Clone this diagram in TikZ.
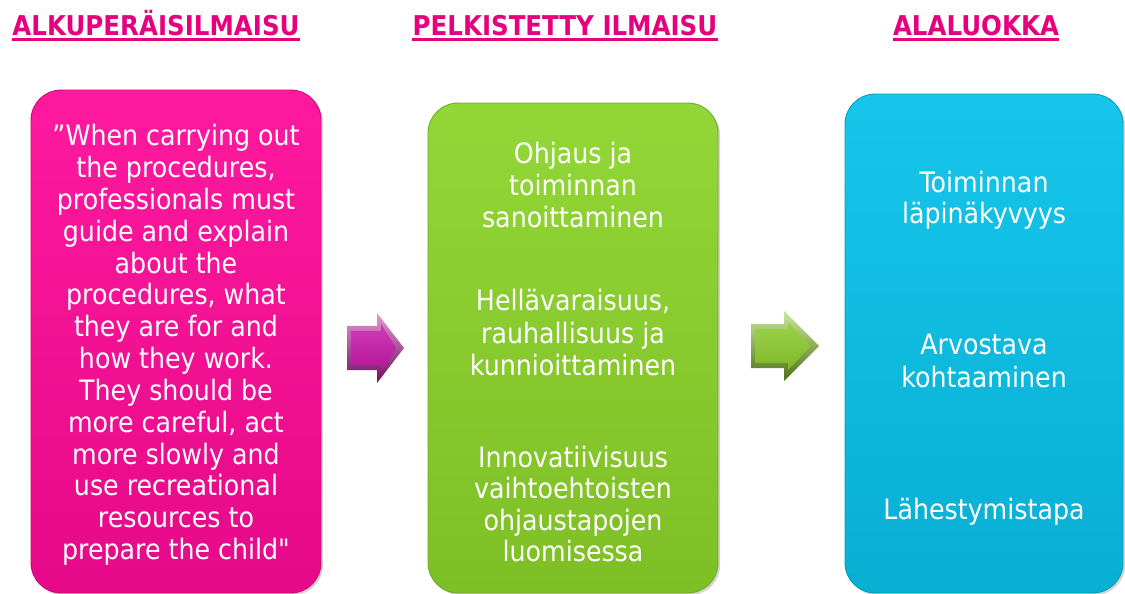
\documentclass[tikz,border=0pt]{standalone}
\usepackage{fontspec}
\setmainfont{DejaVu Sans}[FakeStretch=0.9]
\newfontfamily\suoralainaus{DejaVu Sans}[FakeStretch=0.9]
\usepackage{xcolor}
\definecolor{otsikko}{HTML}{E6007E}
\definecolor{pinkki}{HTML}{FF0A98}
\definecolor{vihrea}{HTML}{8CD42A}
\definecolor{sininen}{HTML}{08C2EA}
\definecolor{nuolipinkki}{HTML}{C818A8}
\definecolor{nuolivihrea}{HTML}{8CCB2C}
\usetikzlibrary{shadows,calc}

\begin{document}
\begin{tikzpicture}[x=0.02cm,y=-0.02cm,
		declare function={%
			lsp=31.8;
			shaft=22;
			headw=35;
		}
		]%
		\tikzset{
			panel/.style={rounded corners=0.6cm,minimum width=5.8cm,line width=0.5pt,
				draw=#1!80!black,top color=#1!94!white,bottom color=#1!90!black,
				drop shadow={opacity=0.35,shadow xshift=1.2pt,shadow yshift=-1.2pt}},
			hdr/.style={font=\fontsize{15.5}{18}\selectfont\bfseries,text=otsikko,anchor=base,inner sep=0pt},
			hdrline/.style={draw=otsikko,line width=1.7pt},
			body/.style={font=\fontsize{16}{18}\selectfont,text=white,anchor=base,inner sep=0pt},
			pics/blockarrow/.style n args={3}{code={%
				\path[top color=#1!45!white,bottom color=#1!55!black]
					(0,-shaft) -- (#2,-shaft) -- (#2,-headw) -- (#2+#3,0) -- (#2,headw) -- (#2,shaft) -- (0,shaft) -- cycle;
				\path[top color=#1!85!white,bottom color=#1!90!black]
					(4,-shaft+5) -- (#2+4,-shaft+5) -- (#2+4,-headw+11) -- (#2+#3-8,0) -- (#2+4,headw-11) -- (#2+4,shaft-5) -- (4,shaft-5) -- cycle;
			}}
		}
		\useasboundingbox (0,0) rectangle (1125,594);
		%% otsikot
		\foreach \n/\x/\t in {hA/156/ALKUPERÄISILMAISU,hB/565/PELKISTETTY ILMAISU,hC/976/ALALUOKKA}{%
			\node[hdr] (\n) at (\x,36) {\t};
			\draw[hdrline] ([yshift=-2pt]\n.base west) -- ([yshift=-2pt]\n.base east);
		}
		%% laatikot
		\node[panel=pinkki,minimum height=10.06cm] (pA) at (176,341.5) {};
		\node[panel=vihrea,minimum height=9.8cm] (pB) at (573,348) {};
		\node[panel=sininen,minimum width=5.56cm,minimum height=9.98cm] (pC) at (984,343.5) {};
		%% nuolet
		\path (347,348) pic {blockarrow={nuolipinkki}{30}{27}};
		\path (751,346) pic {blockarrow={nuolivihrea}{33}{35}};
		%% alkuperäisilmaisu
		\foreach \t [count=\i] in {%
			{”When carrying out},{the procedures,},{professionals must},{guide and explain},
			{about the},{procedures, what},{they are for and},{how they work.},
			{They should be},{more careful, act},{more slowly and},{use recreational},
			{resources to},{prepare the child{\suoralainaus"}}}{%
			\node[body] (a\i) at (176,{146+(\i-1)*lsp}) {\t};
		}
		%% pelkistetty ilmaisu
		\foreach \t/\y [count=\i] in {%
			{Ohjaus ja}/164,{toiminnan}/196,{sanoittaminen}/228,
			{Hellävaraisuus,}/311,{rauhallisuus ja}/343,{kunnioittaminen}/375,
			{Innovatiivisuus}/467,{vaihtoehtoisten}/498,{ohjaustapojen}/530,{luomisessa}/561}{%
			\node[body] (b\i) at (573,\y) {\t};
		}
		%% alaluokka
		\foreach \t/\y [count=\i] in {%
			{Toiminnan}/193,{läpinäkyvyys}/224,
			{Arvostava}/355,{kohtaaminen}/387,
			{Lähestymistapa}/519}{%
			\node[body] (c\i) at (984,\y) {\t};
		}
	\end{tikzpicture}
\end{document}
